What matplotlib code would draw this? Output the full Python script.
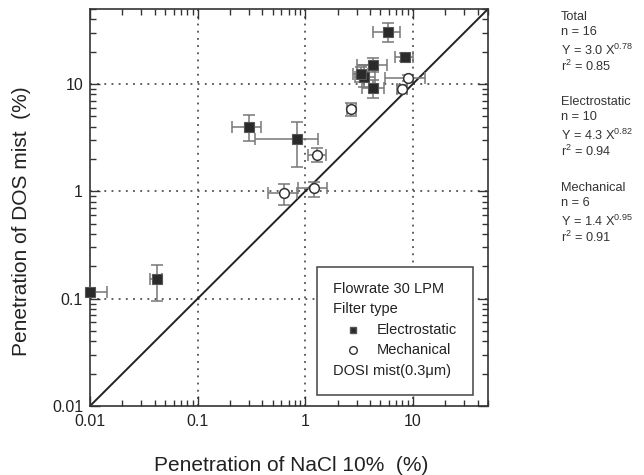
import numpy as np
import matplotlib
matplotlib.use("Agg")
import matplotlib.pyplot as plt
from matplotlib.ticker import FixedLocator, FixedFormatter, LogLocator, NullFormatter
from matplotlib.patches import Rectangle

plt.rcParams['font.family'] = ['Liberation Sans', 'DejaVu Sans']
plt.rcParams['mathtext.fontset'] = 'custom'
plt.rcParams['mathtext.rm'] = 'Liberation Sans'
plt.rcParams['mathtext.it'] = 'Liberation Sans:italic'

# ---- data ----
# Electrostatic filters
es_x    = [0.010, 0.042, 0.30, 0.84, 5.9, 8.4, 4.3, 3.5, 4.3, 3.3]
es_x_lo = [0.010, 0.036, 0.21, 0.34, 4.3, 6.8, 3.0, 2.9, 3.4, 2.8]
es_x_hi = [0.0144, 0.047, 0.39, 1.32, 7.6, 10.0, 5.7, 4.45, 5.4, 3.8]
es_y    = [0.115, 0.153, 4.0, 3.08, 30.6, 17.9, 15.1, 11.6, 9.2, 12.4]
es_y_lo = [0.115, 0.095, 2.95, 1.69, 24.7, 16.4, 13.0, 9.4, 7.4, 10.4]
es_y_hi = [0.115, 0.206, 5.15, 4.43, 37.0, 19.4, 17.5, 15.1, 10.9, 14.4]

# Mechanical filters
me_x    = [1.29, 0.64, 1.21, 2.67, 9.0, 7.9]
me_x_lo = [1.07, 0.454, 0.86, 2.43, 5.5, 7.1]
me_x_hi = [1.56, 0.843, 1.60, 2.97, 12.9, 8.9]
me_y    = [2.18, 0.967, 1.08, 5.86, 11.4, 9.0]
me_y_lo = [1.88, 0.746, 0.89, 5.05, 10.6, 8.3]
me_y_hi = [2.54, 1.17, 1.22, 6.7, 12.2, 9.7]

ref_line = [0.01, 50]
ticks = [0.01, 0.1, 1, 10]
tick_labels = ['0.01', '0.1', '1', '10']
grid_vals = [0.1, 1, 10]

legend_lines = ['Flowrate 30 LPM', 'Filter type', 'Electrostatic', 'Mechanical', 'DOSI mist(0.3\u03bcm)']

stats_groups = ['Total', 'Electrostatic', 'Mechanical']
stats_n = [16, 10, 6]
stats_a = [3.0, 4.3, 1.4]
stats_b = ['0.78', '0.82', '0.95']
stats_r2 = ['0.85', '0.94', '0.91']

# ---- figure ----
fig = plt.figure(figsize=(6.44, 4.75), dpi=100)
L, R, T, B = 90, 488, 9, 406
ax = fig.add_axes([L/644, 1 - B/475, (R-L)/644, (B-T)/475])
ax.set_xscale('log')
ax.set_yscale('log')
ax.set_xlim(0.01, 50)
ax.set_ylim(0.01, 50)

# grid lines
for g in grid_vals:
    ax.axvline(g, color='#333333', ls=(0, (1.2, 3.5)), lw=1.1, zorder=1)
    ax.axhline(g, color='#333333', ls=(0, (1.2, 3.5)), lw=1.1, zorder=1)

# 1:1 line
ax.plot(ref_line, ref_line, color='#222222', lw=1.4, zorder=2)

def err(v, lo, hi):
    v = np.array(v); lo = np.array(lo); hi = np.array(hi)
    return np.vstack([v - lo, hi - v])

ax.errorbar(es_x, es_y, xerr=err(es_x, es_x_lo, es_x_hi), yerr=err(es_y, es_y_lo, es_y_hi),
            fmt='none', ecolor='#777777', elinewidth=1.1, capsize=4, capthick=1.1, zorder=3)
ax.errorbar(me_x, me_y, xerr=err(me_x, me_x_lo, me_x_hi), yerr=err(me_y, me_y_lo, me_y_hi),
            fmt='none', ecolor='#777777', elinewidth=1.1, capsize=4, capthick=1.1, zorder=3)
ax.plot(es_x, es_y, 's', ms=6.5, mfc='#2a2a2a', mec='#555555', mew=0.8, ls='none', zorder=4, clip_on=False)
ax.plot(me_x, me_y, 'o', ms=7, mfc='white', mec='#333333', mew=1.1, ls='none', zorder=4)

# ticks
ax.xaxis.set_major_locator(FixedLocator(ticks))
ax.xaxis.set_major_formatter(FixedFormatter(tick_labels))
ax.yaxis.set_major_locator(FixedLocator(ticks))
ax.yaxis.set_major_formatter(FixedFormatter(tick_labels))
for a in (ax.xaxis, ax.yaxis):
    a.set_minor_locator(LogLocator(base=10, subs=np.arange(2, 10), numticks=20))
    a.set_minor_formatter(NullFormatter())
ax.tick_params(which='both', direction='in', top=True, right=True, color='#333333', width=1.0)
ax.tick_params(which='major', length=7, labelsize=11.5, labelcolor='#222222')
ax.tick_params(axis='x', which='major', pad=6)
ax.tick_params(axis='y', which='major', pad=5)
ax.tick_params(which='minor', length=4)
for s in ax.spines.values():
    s.set_linewidth(1.2)
    s.set_color('#333333')

ax.set_xlabel('Penetration of NaCl 10%  (%)', fontsize=15, color='#222222')
ax.set_ylabel('Penetration of DOS mist  (%)', fontsize=15, color='#222222')
W, H = R - L, B - T
ax.xaxis.set_label_coords((291 - L)/W, (B - 456)/H)
ax.yaxis.set_label_coords((31 - L)/W, (B - 221)/H)

# legend box (manual)
def ay(py):
    return (B - py)/H
def axx(px):
    return (px - L)/W
ax.add_patch(Rectangle((axx(317), ay(395)), axx(473)-axx(317), ay(267)-ay(395), transform=ax.transAxes,
                       fill=True, facecolor='white', edgecolor='#444444', lw=1.1, zorder=5))
fs_leg = 10.5
ax.text(axx(333), ay(289), legend_lines[0], transform=ax.transAxes, fontsize=fs_leg, va='center', zorder=6, color='#222222')
ax.text(axx(333), ay(309), legend_lines[1], transform=ax.transAxes, fontsize=fs_leg, va='center', zorder=6, color='#222222')
ax.plot([axx(353)], [ay(330)], 's', ms=5, mfc='#2a2a2a', mec='#555555', transform=ax.transAxes, zorder=6)
ax.text(axx(377), ay(330), legend_lines[2], transform=ax.transAxes, fontsize=fs_leg, va='center', zorder=6, color='#222222')
ax.plot([axx(353)], [ay(350)], 'o', ms=5.5, mfc='white', mec='#333333', transform=ax.transAxes, zorder=6)
ax.text(axx(377), ay(350), legend_lines[3], transform=ax.transAxes, fontsize=fs_leg, va='center', zorder=6, color='#222222')
ax.text(axx(333), ay(371), legend_lines[4], transform=ax.transAxes, fontsize=fs_leg, va='center', zorder=6, color='#222222')

# statistics text on the right
y0s = [17, 102, 188]
for g, n, a, b, r2, y0 in zip(stats_groups, stats_n, stats_a, stats_b, stats_r2, y0s):
    lines = [g, f'n = {n}', f'Y = {a:.1f} X$^{{{b}}}$', f'r$^2$ = {r2}']
    offs = [0, 15, 33, 49]
    for ln, o in zip(lines, offs):
        fig.text(561/644, 1 - (y0 + o)/475, ln, fontsize=9.2, va='center', ha='left', color='#333333')

fig.savefig('out.png', dpi=100)
